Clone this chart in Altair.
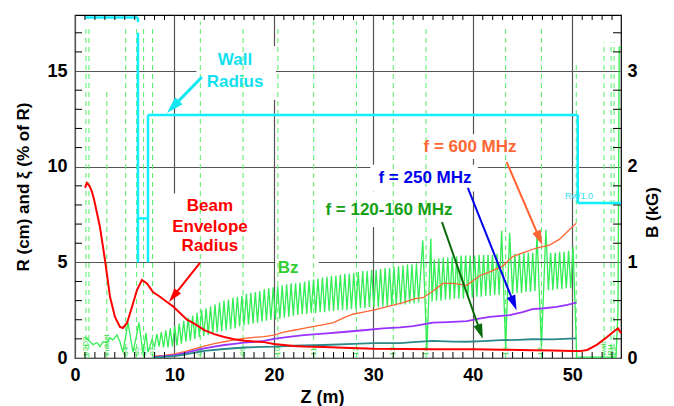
import math
import altair as alt
import pandas as pd

W, H = 546, 343
X_MAX = 54.9
R_MAX = 17.93
B_MAX = R_MAX / 5.0
FONT = "Liberation Sans"
PX_Z = W / X_MAX
PX_R = H / R_MAX

# ---------------- data ----------------
# Beam envelope radius (cm)
env_z = [1.0, 1.2, 1.45, 1.7, 1.91, 2.51, 3.02, 3.52, 4.02, 4.52, 4.82, 5.23, 5.73, 6.23, 6.73,
         7.24, 7.84, 8.54, 9.25, 9.85, 10.55, 11.26, 12.0, 13.0, 14.0, 15.0, 16.0, 17.0, 18.0, 19.0,
         20.0, 21.0, 22.0, 23.0, 25.0, 27.0, 30.0, 33.0, 36.0, 40.0, 43.0, 46.0, 48.0, 50.0, 50.8,
         51.5, 52.5, 53.5, 54.2, 54.6, 54.9]
env_r = [8.9, 9.15, 9.0, 8.7, 8.3, 6.85, 5.1, 3.2, 2.15, 1.62, 1.57, 1.83, 2.67, 3.55, 4.08,
         3.9, 3.45, 3.2, 2.93, 2.7, 2.35, 2.0, 1.8, 1.46, 1.25, 1.1, 0.98, 0.9, 0.86, 0.83,
         0.73, 0.68, 0.63, 0.6, 0.57, 0.53, 0.48, 0.47, 0.46, 0.46, 0.43, 0.41, 0.39, 0.37, 0.36,
         0.42, 0.7, 1.1, 1.4, 1.55, 1.3]

# xi (% of R) for the three frequencies
f600_z = [7.9, 9.0, 10.0, 11.0, 12.0, 13.0, 14.0, 15.0, 16.0, 17.0, 18.0, 19.0, 20.0, 21.0, 22.0,
          23.5, 25.0, 26.0, 27.0, 28.0, 29.0, 30.0, 31.5, 33.0, 34.2, 35.0, 36.0, 37.0, 38.0, 39.4,
          40.7, 41.7, 43.0, 44.0, 45.0, 46.4, 47.7, 48.7, 49.5, 50.4]
f600_r = [0.1, 0.14, 0.22, 0.33, 0.48, 0.62, 0.75, 0.85, 0.95, 1.02, 1.08, 1.12, 1.2, 1.35, 1.45,
          1.6, 1.75, 1.85, 2.1, 2.3, 2.4, 2.5, 2.7, 2.9, 3.1, 3.15, 3.5, 3.9, 3.9, 3.8,
          4.3, 4.5, 4.8, 5.3, 5.5, 5.75, 5.9, 6.2, 6.6, 7.05]
f250_z = [7.9, 9.0, 10.0, 11.0, 12.0, 13.0, 14.0, 15.0, 16.0, 17.0, 18.0, 19.0, 20.0, 21.5, 23.0,
          25.0, 27.0, 29.0, 31.0, 32.7, 34.0, 36.0, 37.5, 39.4, 40.5, 41.7, 43.7, 45.0, 46.0, 47.2,
          48.4, 49.5, 50.4]
f250_r = [0.05, 0.1, 0.15, 0.25, 0.38, 0.5, 0.6, 0.68, 0.74, 0.8, 0.84, 0.9, 1.0, 1.1, 1.2,
          1.27, 1.36, 1.45, 1.55, 1.6, 1.67, 1.85, 1.88, 1.93, 2.05, 2.15, 2.24, 2.4, 2.55, 2.6,
          2.67, 2.78, 2.9]
f120_z = [7.9, 9.0, 10.0, 11.0, 12.0, 13.0, 15.0, 17.0, 20.0, 22.0, 25.0, 28.0, 30.0, 32.7, 34.0,
          36.0, 38.0, 39.4, 41.0, 42.8, 44.5, 46.0, 48.0, 50.4]
f120_r = [0.03, 0.06, 0.1, 0.18, 0.28, 0.37, 0.47, 0.55, 0.59, 0.64, 0.68, 0.74, 0.78, 0.78, 0.83,
          0.9, 0.86, 0.85, 0.88, 0.93, 0.95, 0.98, 0.97, 1.03]

# Bz (kG): early section, troughs, peaks and special points
bz_early_z = [1.0, 1.31, 1.81, 2.21, 2.51, 2.81, 3.22, 3.52, 3.82, 4.22, 4.52, 4.82, 5.33, 5.83,
              6.23, 6.43, 6.83, 7.14, 7.34, 7.74]
bz_early_b = [0.22, 0.19, 0.14, 0.16, 0.12, 0.17, 0.16, 0.21, 0.19, 0.24, 0.17, 0.06, 0.37, 0.06,
              0.26, 0.37, 0.05, 0.26, 0.06, 0.19]
bz_trough_z = [8.00, 8.45, 8.90, 9.35, 9.80, 10.25, 10.70, 11.15, 11.60, 12.05, 12.50, 12.95, 13.40,
               13.85, 14.30, 14.75, 15.20, 15.65, 16.10, 16.55, 17.00, 17.45, 17.90, 18.35, 18.80,
               19.25, 19.70, 20.15, 20.60, 21.05, 21.50, 21.95, 22.40, 22.85, 23.30, 23.75, 24.20,
               24.65, 25.10, 25.55, 26.00, 26.45, 26.90, 27.35, 27.80, 28.25, 28.70, 29.15, 29.60,
               30.05, 30.50, 30.95, 31.40, 31.85, 32.30, 32.75, 33.20, 33.65, 34.10, 34.55, 35.90,
               36.35, 36.80, 37.25, 37.70, 38.15, 38.60, 39.05, 39.50, 39.95, 40.40, 40.85, 41.30,
               41.75, 42.20, 42.65, 44.00, 44.45, 44.90, 45.35, 45.80, 46.25, 47.60, 48.05, 48.50,
               48.95, 49.40, 49.85]
bz_trough_b = [0.12, 0.12, 0.11, 0.11, 0.12, 0.13, 0.15, 0.17, 0.18, 0.20, 0.22, 0.23, 0.24,
               0.26, 0.27, 0.28, 0.29, 0.30, 0.31, 0.33, 0.34, 0.35, 0.36, 0.37, 0.38,
               0.39, 0.40, 0.40, 0.41, 0.42, 0.43, 0.44, 0.45, 0.46, 0.46, 0.47, 0.47,
               0.48, 0.48, 0.49, 0.49, 0.50, 0.50, 0.50, 0.51, 0.51, 0.52, 0.52, 0.53,
               0.53, 0.53, 0.54, 0.54, 0.55, 0.55, 0.56, 0.56, 0.57, 0.57, 0.58, 0.59,
               0.60, 0.60, 0.61, 0.61, 0.62, 0.62, 0.62, 0.63, 0.63, 0.64, 0.64, 0.65,
               0.65, 0.66, 0.66, 0.67, 0.68, 0.68, 0.69, 0.69, 0.70, 0.71, 0.71, 0.72,
               0.72, 0.73, 0.73]
bz_peak_z = [8.23, 8.68, 9.13, 9.58, 10.03, 10.48, 10.93, 11.38, 11.83, 12.28, 12.73, 13.18, 13.63,
             14.08, 14.53, 14.98, 15.43, 15.88, 16.33, 16.78, 17.23, 17.68, 18.13, 18.58, 19.03,
             19.48, 19.93, 20.38, 20.83, 21.28, 21.73, 22.18, 22.63, 23.08, 23.53, 23.98, 24.43,
             24.88, 25.33, 25.78, 26.23, 26.68, 27.13, 27.58, 28.03, 28.48, 28.93, 29.38, 29.83,
             30.28, 30.73, 31.18, 31.63, 32.08, 32.53, 32.98, 33.43, 33.88, 34.33, 36.13, 36.58,
             37.03, 37.48, 37.93, 38.38, 38.83, 39.28, 39.73, 40.18, 40.63, 41.08, 41.53, 41.98,
             42.43, 44.23, 44.68, 45.13, 45.58, 46.03, 47.83, 48.28, 48.73, 49.18, 49.63, 50.08]
bz_peak_b = [0.25, 0.27, 0.29, 0.31, 0.33, 0.36, 0.39, 0.42, 0.44, 0.47, 0.50, 0.52, 0.54,
             0.56, 0.58, 0.60, 0.61, 0.63, 0.64, 0.65, 0.67, 0.68, 0.69, 0.70, 0.72,
             0.73, 0.74, 0.75, 0.76, 0.77, 0.78, 0.78, 0.79, 0.80, 0.81, 0.82, 0.83,
             0.84, 0.85, 0.86, 0.86, 0.87, 0.88, 0.88, 0.89, 0.90, 0.91, 0.91, 0.92,
             0.92, 0.93, 0.94, 0.94, 0.95, 0.96, 0.97, 0.98, 0.98, 0.99, 1.03, 1.04,
             1.05, 1.05, 1.06, 1.06, 1.07, 1.07, 1.07, 1.07, 1.08, 1.08, 1.08, 1.08,
             1.09, 1.09, 1.09, 1.10, 1.10, 1.10, 1.10, 1.10, 1.11, 1.11, 1.12, 1.16]
bz_special_z = [34.97, 35.38, 35.78, 42.9, 43.3, 43.7, 46.45, 46.9, 47.35,
                50.45, 54.4, 54.6, 54.72, 54.9]
bz_special_b = [1.23, 0.08, 1.25, 1.33, 0.10, 1.31, 1.30, 0.12, 1.34,
                0.01, 0.01, 0.5, 3.25, 3.25]

# wall radius outline (cm), as segments
wall_z1 = [1.0, 6.33, 6.33, 6.33, 7.34, 7.34, 50.55, 50.55]
wall_z2 = [6.33, 6.33, 6.33, 7.34, 7.34, 50.55, 50.55, 54.9]
wall_r1 = [17.8, 17.8, 17.0, 7.3, 12.7, 12.7, 12.7, 8.1]
wall_r2 = [17.8, 17.55, 5.0, 7.3, 5.0, 12.7, 8.1, 8.1]

# magnet positions (m), dashed markers
mag_z = [1.1, 1.4, 3.2, 5.1, 6.2, 6.9, 7.8, 12.6, 16.9, 20.4, 24.0, 28.3, 32.0, 35.3, 43.3,
         46.9, 50.4, 53.2, 53.9, 54.2]
mag_top = [17.3, 17.3, 14.1, 17.2, 17.2, 17.2, 17.2, 17.6, 17.2, 17.2, 17.6, 17.6, 17.6, 17.3,
           17.3, 17.3, 15.4, 16.5, 16.5, 16.5]
mag_lbl = ["b2D2", "", "induct", "04", "05", "06", "07", "08", "09", "10", "11", "12", "13",
           "14", "16", "17", "", "wall", "RH", "22"]

# annotations
ann_text = ["Wall", "Radius", "Beam", "Envelope", "Radius", "Bz",
            "f = 600 MHz", "f = 250 MHz", "f = 120-160 MHz"]
ann_z = [16.09, 16.09, 13.57, 13.57, 13.57, 21.42, 39.72, 35.19, 31.57]
ann_r = [15.58, 14.43, 7.95, 6.85, 5.85, 4.70, 11.03, 9.41, 7.74]
ann_col = ["#11e0f0", "#11e0f0", "#ff0000", "#ff0000", "#ff0000", "#33cc33",
           "#ff6633", "#0000ee", "#15a015"]

arr_z1 = [12.76, 12.56, 43.4, 39.5, 36.9]
arr_r1 = [14.69, 4.97, 10.25, 8.89, 7.1]
arr_z2 = [9.25, 9.45, 47.0, 44.4, 41.0]
arr_r2 = [12.81, 2.93, 5.9, 2.5, 1.0]
arr_col = ["#11e6f2", "#ff0000", "#ff6633", "#0000ee", "#0b6b0b"]
arr_w = [3, 2, 2, 2, 2]
arr_len = [17, 14, 15, 15, 15]

# white label backgrounds (cut the grid)
box_z1 = [12.2, 7.45, 20.15, 34.2, 29.7, 24.4]
box_z2 = [20.2, 19.85, 24.5, 45.0, 40.5, 38.5]
box_r1 = [13.5, 5.05, 4.2, 10.4, 8.7, 6.85]
box_r2 = [16.3, 8.6, 5.5, 11.7, 10.1, 8.7]

x_major = [0, 10, 20, 30, 40, 50]
r_major = [0, 5, 10, 15]
b_major = [0, 1, 2, 3]
x_minor = [v for v in range(1, 55) if v % 10]
r_minor = [v for v in range(1, 18) if v % 5]
b_minor = [0.2, 0.4, 0.6, 0.8, 1.2, 1.4, 1.6, 1.8, 2.2, 2.4, 2.6, 2.8, 3.2, 3.4]

# ---------------- frames ----------------
env_df = pd.DataFrame({"z": env_z, "r": env_r})
f600_df = pd.DataFrame({"z": f600_z, "r": f600_r})
f250_df = pd.DataFrame({"z": f250_z, "r": f250_r})
f120_df = pd.DataFrame({"z": f120_z, "r": f120_r})
bz_df = pd.concat([
    pd.DataFrame({"z": bz_early_z, "b": bz_early_b}),
    pd.DataFrame({"z": bz_trough_z, "b": bz_trough_b}),
    pd.DataFrame({"z": bz_peak_z, "b": bz_peak_b}),
    pd.DataFrame({"z": bz_special_z, "b": bz_special_b}),
]).sort_values("z").reset_index(drop=True)
bz_df["o"] = range(len(bz_df))
wall_df = pd.DataFrame({"z1": wall_z1, "z2": wall_z2, "r1": wall_r1, "r2": wall_r2})
mag_df = pd.DataFrame({"z": mag_z, "top": mag_top, "lbl": mag_lbl})
mag_df["bot"] = 0.0
mag_df["ly"] = 0.12
lbl_df = mag_df[mag_df["lbl"] != ""]
ann_df = pd.DataFrame({"z": ann_z, "r": ann_r, "t": ann_text, "c": ann_col})
box_df = pd.DataFrame({"z1": box_z1, "z2": box_z2, "r1": box_r1, "r2": box_r2})

arr = pd.DataFrame({"z1": arr_z1, "r1": arr_r1, "z2": arr_z2, "r2": arr_r2,
                    "c": arr_col, "w": arr_w, "L": arr_len})
dxp = (arr["z2"] - arr["z1"]) * PX_Z
dyp = -(arr["r2"] - arr["r1"]) * PX_R
ln = (dxp ** 2 + dyp ** 2) ** 0.5
ux, uy = dxp / ln, dyp / ln
arr["ang"] = [math.degrees(math.atan2(a, -b)) % 360 for a, b in zip(dxp, dyp)]
arr["sz"] = 4 * arr["L"] ** 2
arr["zs"] = arr["z2"] - 0.5 * arr["L"] * ux / PX_Z
arr["rs"] = arr["r2"] + 0.5 * arr["L"] * uy / PX_R

xmin_df = pd.DataFrame({"v": x_minor})
rmin_df = pd.DataFrame({"v": r_minor})
bmin_df = pd.DataFrame({"v": b_minor})

# ---------------- scales / axes ----------------
xs = alt.Scale(domain=[0, X_MAX], nice=False, zero=False)
ys = alt.Scale(domain=[0, R_MAX], nice=False, zero=False)
bs = alt.Scale(domain=[0, B_MAX], nice=False, zero=False)

XA = alt.Axis(values=x_major, title="Z (m)", grid=True, gridColor="#555555", gridWidth=1.2,
              ticks=False, tickSize=0, domain=False, labelFont=FONT, labelFontSize=18,
              labelFontWeight="bold", labelColor="black", labelPadding=8, labelFlush=False,
              titleFont=FONT, titleFontSize=18, titleFontWeight="bold", titleColor="black",
              titlePadding=4, titleX=247, format="d")
YA = alt.Axis(values=r_major, title="R (cm) and ξ (% of R)", grid=True, gridColor="#555555",
              gridWidth=1.2, ticks=False, tickSize=0, domain=False, labelFont=FONT,
              labelFontSize=18, labelFontWeight="bold", labelColor="black", labelPadding=8,
              labelFlush=False, titleFont=FONT, titleFontSize=17, titleFontWeight="bold",
              titleColor="black", titlePadding=14, format="d")
BA = alt.Axis(values=b_major, orient="right", title="B (kG)", grid=False, ticks=False,
              tickSize=0, domain=False, labelFont=FONT, labelFontSize=18,
              labelFontWeight="bold", labelColor="black", labelPadding=6, labelFlush=False,
              titleFont=FONT, titleFontSize=17, titleFontWeight="bold", titleColor="black",
              titlePadding=24, titleAngle=270, titleY=197, format="d")


def xq(f):
    return alt.X(f"{f}:Q", scale=xs, axis=XA)


# ---------------- bottom group (left scale) ----------------
boxes = alt.Chart(box_df).mark_rect(color="white").encode(
    x=xq("z1"), x2="z2", y=alt.Y("r1:Q", scale=ys, axis=YA), y2="r2")
mags = alt.Chart(mag_df).mark_rule(color="#55ee66", strokeWidth=1, strokeDash=[5, 4]).encode(
    x=xq("z"), y=alt.Y("bot:Q", scale=ys, axis=YA), y2="top")
mag_lbls = alt.Chart(lbl_df).mark_text(angle=270, align="left", baseline="middle", fontSize=8,
                                        font=FONT, color="#33dd44").encode(
    x=xq("z"), y=alt.Y("ly:Q", scale=ys, axis=YA), text="lbl:N")
bottom = alt.layer(boxes, mags, mag_lbls)

# ---------------- Bz group (right scale) ----------------
bz_line = alt.Chart(bz_df).mark_line(color="#33ee55", strokeWidth=1.3).encode(
    x=xq("z"), y=alt.Y("b:Q", scale=bs, axis=BA), order="o:Q")
b_ticks = alt.Chart(bmin_df).mark_rule(color="black", strokeWidth=1).encode(
    y=alt.Y("v:Q", scale=bs, axis=BA), x=alt.value(W), x2=alt.value(W - 8))
bzg = alt.layer(bz_line, b_ticks)


# ---------------- top group (left scale, no axis) ----------------
def yq(f):
    return alt.Y(f"{f}:Q", scale=ys, axis=None)


wall = alt.Chart(wall_df).mark_rule(color="#11eeff", strokeWidth=2.5).encode(
    x=xq("z1"), x2="z2", y=yq("r1"), y2="r2")


def curve(df, color, w):
    return alt.Chart(df).mark_line(color=color, strokeWidth=w).encode(x=xq("z"), y=yq("r"))


c600 = curve(f600_df, "#ff6633", 1.3)
c250 = curve(f250_df, "#9933ff", 1.8)
c120 = curve(f120_df, "#2a8a8a", 1.8)
cenv = curve(env_df, "#ff0000", 2)

shafts = alt.Chart(arr).mark_rule().encode(
    x=xq("z1"), x2="zs", y=yq("r1"), y2="rs",
    color=alt.Color("c:N", scale=None), strokeWidth=alt.StrokeWidth("w:Q", scale=None))
heads = alt.Chart(arr).mark_point(shape="M0,0L-0.3,1L0.3,1Z", filled=True, opacity=1,
                                  strokeWidth=0).encode(
    x=xq("z2"), y=yq("r2"), color=alt.Color("c:N", scale=None),
    angle=alt.Angle("ang:Q", scale=None), size=alt.Size("sz:Q", scale=None))
ann = alt.Chart(ann_df).mark_text(font=FONT, fontSize=17, fontWeight="bold",
                                  align="center", baseline="middle").encode(
    x=xq("z"), y=yq("r"), text="t:N", color=alt.Color("c:N", scale=None))
rw = alt.Chart(pd.DataFrame({"z": [50.68], "r": [8.2], "t": ["Rw/1.0"]})).mark_text(
    font=FONT, fontSize=9, color="#33ddee", align="center", baseline="bottom").encode(
    x=xq("z"), y=yq("r"), text="t:N")

bt = alt.Chart(xmin_df).mark_rule(color="black", strokeWidth=1).encode(
    x=xq("v"), y=alt.value(H), y2=alt.value(H - 6))
tt = alt.Chart(xmin_df).mark_rule(color="black", strokeWidth=1).encode(
    x=xq("v"), y=alt.value(0), y2=alt.value(5))
lt = alt.Chart(rmin_df).mark_rule(color="black", strokeWidth=1).encode(
    y=yq("v"), x=alt.value(0), x2=alt.value(7))

top = alt.layer(wall, c600, c250, c120, cenv, shafts, heads, ann, rw, bt, tt, lt)

chart = alt.layer(bottom, bzg, top).resolve_scale(y="independent").properties(
    width=W, height=H,
    padding={"left": 75, "top": 15, "right": 53, "bottom": 48},
    autosize=alt.AutoSizeParams(type="none"),
).configure_view(stroke="black", strokeWidth=1.2)

chart.save("out.html", embed_options={"renderer": "svg", "actions": False})
